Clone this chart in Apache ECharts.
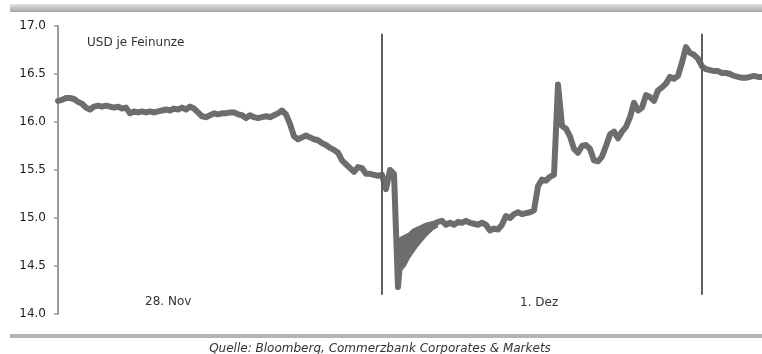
<!DOCTYPE html>
<html>
<head>
<meta charset="utf-8">
<script src="https://cdn.jsdelivr.net/npm/echarts@6/dist/echarts.min.js"></script>
<style>
  html, body { margin: 0; padding: 0; background: #ffffff; }
  #chart { width: 762px; height: 354px; }
</style>
</head>
<body>
<div id="chart"></div>
<script>
// Silver price, intraday (USD per troy ounce), 28 Nov to 1 Dec
const silverPrice = [
  16.22, 16.23, 16.25, 16.25, 16.24, 16.21, 16.19, 16.15, 16.13, 16.16,
  16.17, 16.16, 16.17, 16.16, 16.15, 16.16, 16.14, 16.15, 16.09, 16.11,
  16.10, 16.11, 16.10, 16.11, 16.10, 16.11, 16.12, 16.13, 16.12, 16.14,
  16.13, 16.15, 16.13, 16.16, 16.14, 16.10, 16.06, 16.05, 16.07, 16.09,
  16.08, 16.09, 16.09, 16.10, 16.10, 16.08, 16.07, 16.04, 16.07, 16.05,
  16.04, 16.05, 16.06, 16.05, 16.07, 16.09, 16.12, 16.08, 15.98, 15.85,
  15.82, 15.84, 15.86, 15.84, 15.82, 15.81, 15.78, 15.76, 15.73, 15.71,
  15.68, 15.60, 15.56, 15.52, 15.48, 15.53, 15.52, 15.46, 15.46, 15.45,
  15.44, 15.45, 15.30, 15.50, 15.46, 14.28, 14.78, 14.80, 14.82, 14.86,
  14.88, 14.90, 14.92, 14.93, 14.94, 14.96, 14.97, 14.93, 14.95, 14.93,
  14.96, 14.95, 14.97, 14.95, 14.94, 14.93, 14.95, 14.93, 14.87, 14.89,
  14.88, 14.93, 15.02, 15.00, 15.04, 15.06, 15.04, 15.05, 15.06, 15.08,
  15.33, 15.40, 15.39, 15.43, 15.45, 16.39, 15.96, 15.93, 15.85, 15.72,
  15.68, 15.75, 15.76, 15.72, 15.60, 15.59, 15.64, 15.75, 15.87, 15.90,
  15.83, 15.90, 15.95, 16.05, 16.20, 16.12, 16.15, 16.28, 16.26, 16.22,
  16.33, 16.36, 16.40, 16.47, 16.45, 16.48, 16.62, 16.78, 16.72, 16.70,
  16.66, 16.58, 16.55, 16.54, 16.53, 16.53, 16.51, 16.51, 16.50, 16.48,
  16.47, 16.46, 16.46, 16.47, 16.48, 16.47, 16.47
];

// Intraday low/high range of the volatile stretch right after the sell-off
const rangeStart = 86;
const rangeLow  = [14.45, 14.50, 14.58, 14.64, 14.70, 14.75, 14.80, 14.84, 14.88, 14.90];
const rangeHigh = [14.78, 14.80, 14.82, 14.86, 14.88, 14.90, 14.92, 14.93, 14.94, 14.96];

// Sample index of each session change
const sessionBreaks = [81, 161];
// Vertical extent of the session markers (price units)
const breakTop = 16.92;
const breakBottom = 14.2;

const yTicks = { min: 14.0, max: 17.0, step: 0.5 };

const dayLabels = ['28. Nov', '1. Dez'];
const unitLabel = 'USD je Feinunze';
const sourceLabel = 'Quelle: Bloomberg, Commerzbank Corporates & Markets';

const timeSlots = silverPrice.map((_, i) => String(i));

// Range band as a stacked pair: invisible base + visible spread
const bandBase = silverPrice.map(() => null);
const bandSpread = silverPrice.map(() => null);
rangeLow.forEach((lo, k) => {
  bandBase[rangeStart + k] = lo;
  bandSpread[rangeStart + k] = +(rangeHigh[k] - lo).toFixed(2);
});

const font = '"DejaVu Sans", sans-serif';
const lineColor = '#6d6d6d';

const chart = echarts.init(document.getElementById('chart'), null, { renderer: 'canvas' });

chart.setOption({
  animation: false,
  backgroundColor: '#ffffff',
  grid: { left: 58, right: 0, top: 26, bottom: 40, containLabel: false },
  xAxis: {
    type: 'category',
    data: timeSlots,
    boundaryGap: false,
    show: false
  },
  yAxis: {
    type: 'value',
    min: yTicks.min,
    max: yTicks.max,
    interval: yTicks.step,
    axisLine: { show: true, lineStyle: { color: '#9a9a9a', width: 2 } },
    axisTick: { show: true, inside: false, length: 4, lineStyle: { color: '#9a9a9a', width: 1.5 } },
    axisLabel: {
      margin: 12,
      color: '#222222',
      fontFamily: font,
      fontSize: 12,
      formatter: v => v.toFixed(1)
    },
    splitLine: { show: false }
  },
  series: [
    {
      type: 'line',
      stack: 'range',
      data: bandBase,
      showSymbol: false,
      symbol: 'none',
      lineStyle: { width: 0, opacity: 0 },
      silent: true,
      z: 1
    },
    {
      type: 'line',
      stack: 'range',
      data: bandSpread,
      showSymbol: false,
      symbol: 'none',
      lineStyle: { width: 4, color: lineColor },
      areaStyle: { color: lineColor, opacity: 1 },
      silent: true,
      z: 1
    },
    {
      type: 'line',
      data: silverPrice,
      showSymbol: false,
      symbol: 'none',
      lineStyle: { color: lineColor, width: 6, join: 'round', cap: 'round' },
      z: 2,
      markLine: {
        silent: true,
        symbol: 'none',
        label: { show: false },
        lineStyle: { color: '#5f5f5f', width: 2, type: 'solid' },
        data: sessionBreaks.map(i => [
          { coord: [i, breakTop] },
          { coord: [i, breakBottom] }
        ])
      }
    }
  ],
  graphic: [
    {
      type: 'rect',
      shape: { x: 10, y: 4, width: 752, height: 8 },
      style: {
        fill: new echarts.graphic.LinearGradient(0, 0, 0, 1, [
          { offset: 0, color: '#e2e2e2' },
          { offset: 1, color: '#a4a4a4' }
        ])
      },
      silent: true
    },
    {
      type: 'rect',
      shape: { x: 10, y: 334, width: 752, height: 4 },
      style: { fill: '#b4b4b4' },
      silent: true
    },
    {
      type: 'text',
      x: 87, y: 43,
      style: { text: unitLabel, font: '12px ' + font, fill: '#333333', verticalAlign: 'middle' },
      silent: true
    },
    {
      type: 'text',
      x: 145, y: 302,
      style: { text: dayLabels[0], font: '12px ' + font, fill: '#333333', verticalAlign: 'middle' },
      silent: true
    },
    {
      type: 'text',
      x: 520, y: 303,
      style: { text: dayLabels[1], font: '12px ' + font, fill: '#333333', verticalAlign: 'middle' },
      silent: true
    },
    {
      type: 'text',
      x: 380, y: 349,
      style: { text: sourceLabel, font: 'italic 12px ' + font, fill: '#333333', align: 'center', verticalAlign: 'middle' },
      silent: true
    }
  ]
});
</script>
</body>
</html>
